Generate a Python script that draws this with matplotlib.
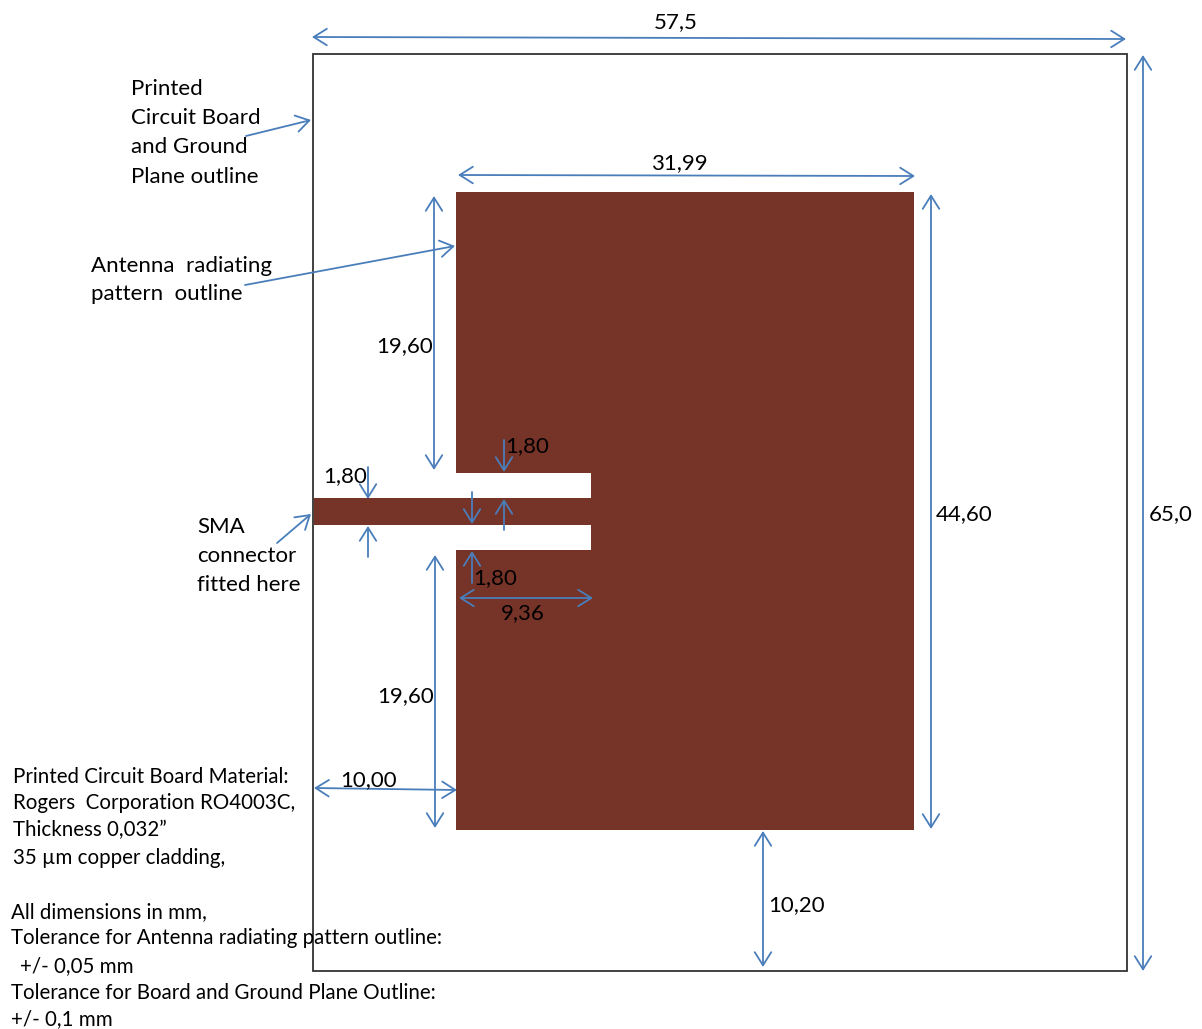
import matplotlib
matplotlib.use("Agg")
import matplotlib.pyplot as plt
from matplotlib.patches import Polygon, Rectangle

plt.rcParams['font.family'] = ['Lato', 'DejaVu Sans']

W, H = 1202, 1029
BLUE = "#4a7ebb"
COPPER = "#763327"

# outlines, in picture pixels
board = (313, 54, 1127, 971)
patch_x = [456, 914, 914, 456, 456, 591, 591, 314, 314, 591, 591, 456]
patch_y = [192, 192, 830, 830, 550, 550, 525, 525, 498, 498, 473, 473]

# dimension labels
dim_labels = ["57,5", "65,0", "31,99", "44,60", "19,60", "19,60", "10,00", "10,20",
              "1,80", "1,80", "1,80", "9,36"]
dim_x = [676, 1171, 679, 964, 405, 406, 369, 797, 527, 345, 495, 523]
dim_y = [22, 514, 163, 514, 346, 696, 780, 905, 446, 476, 578, 613]

# two headed arrows x0, y0, x1, y1
both_arrows = [
    (312, 37, 1126, 39),
    (1143, 55, 1143, 971),
    (458, 175, 915, 176),
    (931, 194, 931, 829),
    (434, 196, 434, 470),
    (435, 555, 435, 828),
    (314, 788, 457, 790),
    (763, 831, 763, 967),
    (459, 598, 593, 598),
]
# one headed arrows, tail then tip
single_arrows = [
    (246, 136, 311, 120),
    (245, 285, 455, 246),
    (277, 543, 311, 514),
    (504, 440, 504, 472),
    (368, 467, 368, 499),
    (368, 557, 368, 526),
    (472, 492, 472, 524),
    (504, 530, 504, 499),
    (472, 583, 472, 551),
]

notes = [
    (131, 89, "Printed"),
    (131, 118, "Circuit Board"),
    (131, 147, "and Ground"),
    (131, 177, "Plane outline"),
    (91, 266, "Antenna  radiating"),
    (91, 294, "pattern  outline"),
    (197, 527, "SMA"),
    (197, 556, "connector"),
    (197, 585, "fitted here"),
]
material_notes = [
    (13, 777, "Printed Circuit Board Material:"),
    (13, 803, "Rogers  Corporation RO4003C,"),
    (13, 830, "Thickness 0,032”"),
    (13, 858, "35 µm copper cladding,"),
    (11, 912, "All dimensions in mm,"),
    (11, 938, "Tolerance for Antenna radiating pattern outline:"),
    (20, 966, "+/- 0,05 mm"),
    (11, 993, "Tolerance for Board and Ground Plane Outline:"),
    (11, 1019, "+/- 0,1 mm"),
]

fig = plt.figure(figsize=(W / 100, H / 100), dpi=100)
ax = fig.add_axes([0, 0, 1, 1])
ax.set_xlim(0, W)
ax.set_ylim(H, 0)
ax.axis("off")

ax.add_patch(Rectangle((board[0], board[1]), board[2] - board[0], board[3] - board[1],
                       fill=False, edgecolor="#333333", linewidth=1.3))
ax.add_patch(Polygon(list(zip(patch_x, patch_y)), closed=True, facecolor=COPPER,
                     edgecolor="none"))

def arrow(x0, y0, x1, y1, style):
    ax.annotate("", xy=(x1, y1), xytext=(x0, y0),
                arrowprops=dict(arrowstyle=style + ",head_length=0.43,head_width=0.27",
                                color=BLUE, linewidth=1.3, shrinkA=0, shrinkB=0,
                                mutation_scale=22))

for a in both_arrows:
    arrow(*a, "<->")
for a in single_arrows:
    arrow(*a, "->")

for label, x, y in zip(dim_labels, dim_x, dim_y):
    ax.text(x, y, label, fontsize=16, color="black", ha="center", va="center")

for x, y, s in notes:
    ax.text(x, y, s, fontsize=16, color="black", ha="left", va="center")

for x, y, s in material_notes:
    ax.text(x, y, s, fontsize=14.8, color="black", ha="left", va="center")

fig.savefig("out.png", dpi=100)
